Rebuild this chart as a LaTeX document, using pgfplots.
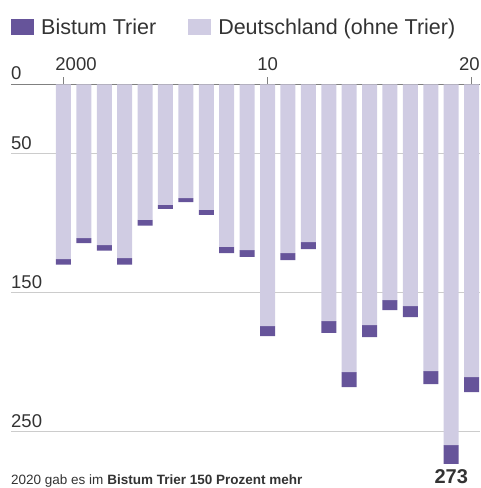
\documentclass[border=0pt]{standalone}
\usepackage{fontspec}
\setmainfont{Liberation Sans}
\usepackage{pgfplots}
\usepackage{pgfplotstable}
\pgfplotsset{compat=1.18}
\definecolor{trier}{HTML}{66549A}
\definecolor{de}{HTML}{D0CCE3}
\definecolor{txt}{HTML}{333333}
\definecolor{gridc}{HTML}{CCCCCC}
\definecolor{zeroc}{HTML}{808080}

\pgfplotstableread{
year de trier
2000 125.7 4.1
2001 110.6 3.6
2002 115.6 4.1
2003 125.0 4.8
2004 97.6 4.1
2005 86.8 2.9
2006 81.8 2.9
2007 90.4 3.6
2008 117.0 4.4
2009 119.2 5.0
2010 173.9 7.2
2011 121.4 5.0
2012 113.5 5.0
2013 170.3 8.6
2014 207.0 10.8
2015 173.2 8.6
2016 155.2 7.2
2017 159.5 7.9
2018 206.3 9.3
2019 259.6 13.4
2020 210.6 10.8
}\data

\begin{document}
\begin{tikzpicture}[x=1pt,y=1pt]
\useasboundingbox (0,0) rectangle (480,488);
\begin{axis}[
  at={(11pt,24.2pt)}, anchor=south west,
  scale only axis, width=469pt, height=379.5pt,
  clip=false,
  xmin=1997.43, xmax=2020.41, ymin=0, ymax=273,
  y dir=reverse,
  ybar stacked, bar width=15pt,
  axis line style={draw=none},
  ytick={0,50,150,250},
  ymajorgrids, grid style={gridc, line width=1.2pt},
  ytick style={draw=none},
  ytick align=inside,
  yticklabel style={anchor=south west, inner sep=0pt, yshift=4pt, font=\fontsize{18.5}{20}\selectfont, text=txt},
  xtick={2000,2010,2020},
  xticklabels={{\makebox[0pt][l]{\hspace{-8pt}2000}},10,{\makebox[0pt][r]{20\hspace{-8pt}}}},
  xtick pos=upper, xticklabel pos=upper,
  xtick align=outside, major tick length=7pt,
  xtick style={zeroc, line width=1.2pt},
  xticklabel style={anchor=south, inner sep=0pt, yshift=6pt, font=\fontsize{18.5}{20}\selectfont, text=txt},
  /pgf/number format/assume math mode=true,
  legend columns=2, reverse legend,
  legend style={at={(0,1.174)}, anchor=north west, draw=none, fill=none, inner sep=0pt,
    font=\fontsize{21.5}{24}\selectfont, text=txt, nodes={inner sep=0pt},
    /tikz/every even column/.append style={column sep=32pt},
    /tikz/every odd column/.append style={column sep=7pt}},
  legend image code/.code={\fill[#1, draw=none] (0pt,-7.7pt) rectangle (23pt,7.7pt);},
]
\addplot[fill=de, draw=none] table[x=year,y=de]{\data};
\addplot[fill=trier, draw=none] table[x=year,y=trier]{\data};
\legend{Deutschland (ohne Trier), Bistum Trier}
\draw[zeroc, line width=1.2pt] (axis cs:1997.43,0) -- (axis cs:2020.41,0);
\coordinate (b19) at (axis cs:2019,273);
\end{axis}
\node[anchor=base, inner sep=0pt, font=\bfseries\fontsize{20}{22}\selectfont, text=txt] at (b19 |- 0,4.5) {273};
\node[anchor=base west, inner sep=0pt, font=\fontsize{13.5}{15}\selectfont, text=txt] at (11,3) {2020 gab es im \textbf{Bistum Trier 150 Prozent mehr}};
\end{tikzpicture}
\end{document}
